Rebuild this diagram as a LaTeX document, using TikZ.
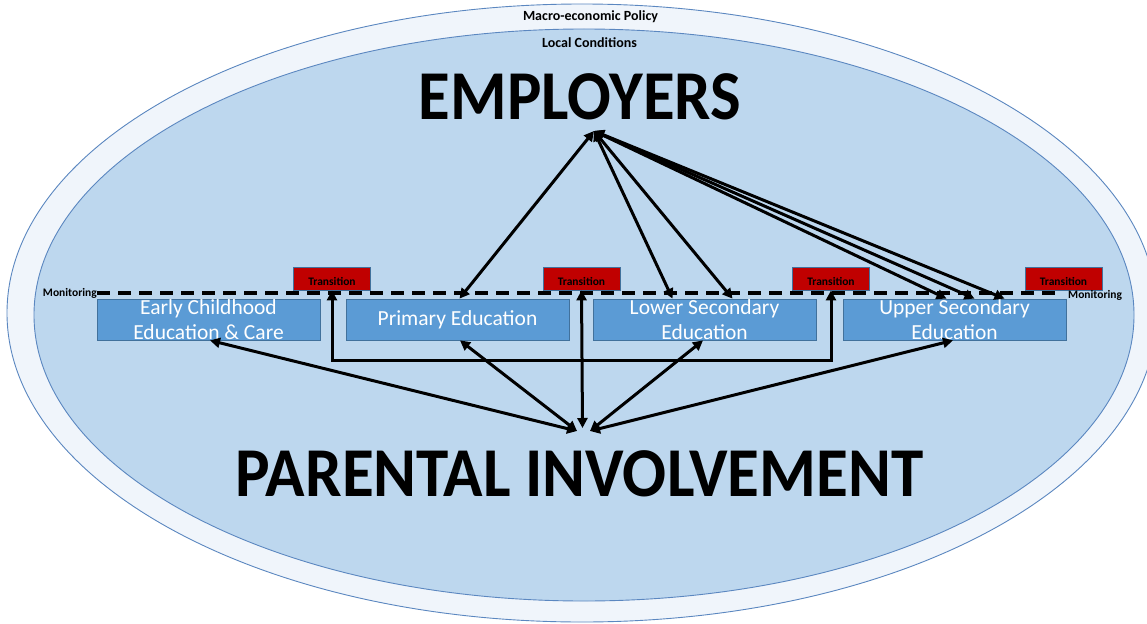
\documentclass[tikz,border=0pt]{standalone}
\usepackage{fontspec}
\setmainfont{Carlito}
\usetikzlibrary{arrows.meta,calc}
\definecolor{ringfill}{HTML}{F0F5FB}
\definecolor{innerfill}{HTML}{BDD7EE}
\definecolor{ringline}{HTML}{5B87C0}
\definecolor{boxfill}{HTML}{5B9BD5}
\definecolor{boxline}{HTML}{41719C}
\definecolor{transfill}{HTML}{C00000}
\begin{document}
\begin{tikzpicture}[x=1pt,y=-1pt,
  stagebox/.style={draw=boxline, line width=0.8pt, fill=boxfill, minimum width=223pt, minimum height=41pt, inner sep=0pt},
  stagetext/.style={text=white, font=\fontsize{21.5}{25}\selectfont, align=center, inner sep=0pt},
  transbox/.style={draw=boxline, line width=0.8pt, fill=transfill, minimum width=77pt, minimum height=23pt, inner sep=0pt, text height=15pt, text depth=2pt, font=\bfseries\fontsize{11.5}{12}\selectfont},
  montext/.style={font=\bfseries\fontsize{11.5}{12}\selectfont, inner sep=0pt},
  ringtext/.style={font=\bfseries\fontsize{14}{15}\selectfont, inner sep=0pt, anchor=base},
  headtext/.style={font=\bfseries\fontsize{70}{70}\selectfont, inner sep=0pt, anchor=base},
  monline/.style={line width=3.5pt, dash pattern=on 13pt off 8pt},
  dbl/.style={line width=3pt, {Triangle[length=10pt,width=10pt]}-{Triangle[length=10pt,width=10pt]}}
]
\useasboundingbox (0,0) rectangle (1147,623);
% ellipses
\path[fill=ringfill, draw=ringline, line width=0.9pt] (582,313) ellipse [x radius=575pt, y radius=309pt];
\path[fill=innerfill, draw=ringline, line width=0.9pt] (584,315) ellipse [x radius=550pt, y radius=286pt];
\node[ringtext] (macro) at (590.5,21) {Macro-economic Policy};
\node[ringtext] (local) at (589.5,48) {Local Conditions};
\node[headtext] (employers) at (580,120) {\scalebox{0.925}[1]{EMPLOYERS}};
\node[headtext] (parents) at (579.5,496) {\scalebox{0.93}[1]{PARENTAL INVOLVEMENT}};
% stage boxes
\node[stagebox] (ecec) at (208.5,319.5) {};
\node[stagebox] (pe) at (457.5,319.5) {};
\node[stagebox] (ls) at (704.5,319.5) {};
\node[stagebox] (us) at (954.5,319.5) {};
\node[stagetext] (ecec-t) at (ecec.center) {Early Childhood\\Education \& Care};
\node[stagetext] (pe-t) at (pe.center) {Primary Education};
\node[stagetext] (ls-t) at (ls.center) {Lower Secondary\\Education};
\node[stagetext] (us-t) at (us.center) {Upper Secondary\\Education};
% transitions
\node[transbox] (t1) at (332,278.5) {Transition};
\node[transbox] (t2) at (581.5,278.5) {Transition};
\node[transbox] (t3) at (831,278.5) {Transition};
\node[transbox] (t4) at (1063.5,278.5) {Transition};
% monitoring
\node[montext, anchor=east] (monl) at (97,293) {Monitoring};
\node[montext, anchor=west] (monr) at (1068,295) {Monitoring};
\draw[monline] (monl.east) -- (1062,293);
% hubs
\coordinate (emp) at (594,131);
\coordinate (parl) at (577,431);
\coordinate (parr) at (590,431);
\coordinate (parc) at (582.5,428);
\coordinate (bl) at (332,360);
\coordinate (br) at (831,360);
% employer arrows
\draw[dbl] (emp) -- ([xshift=2pt]pe.north);
\draw[dbl] (emp) -- ([xshift=-32pt]ls.north);
\draw[dbl] (emp) -- ([xshift=28pt]ls.north);
\draw[dbl] (emp) -- ([xshift=-8pt]us.north);
\draw[dbl] (emp) -- ([xshift=20pt]us.north);
\draw[dbl] (emp) -- ([xshift=50pt]us.north);
% parental arrows
\draw[dbl] (parl) -- ([xshift=1.5pt]ecec.south);
\draw[dbl] (parl) -- ([xshift=2.5pt]pe.south);
\draw[dbl] (parc) -- (t2.south);
\draw[dbl] (parr) -- ([xshift=-1.5pt]ls.south);
\draw[dbl] (parr) -- ([xshift=-1.5pt]us.south);
\draw[dbl] (t1.south) -- (bl) -- (br) -- (t3.south);
\end{tikzpicture}
\end{document}
